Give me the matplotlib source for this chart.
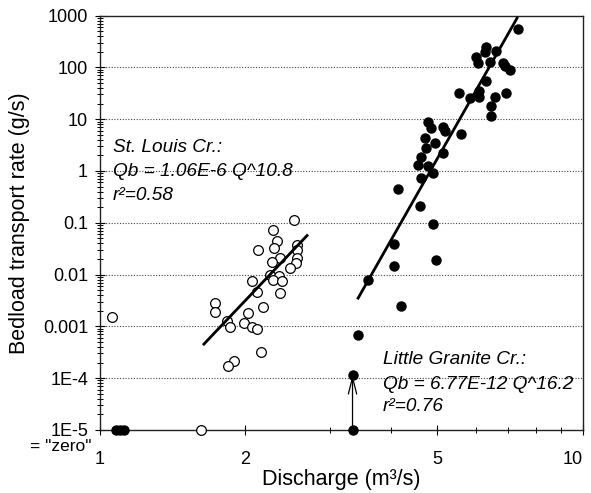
import matplotlib
matplotlib.use('Agg')
import matplotlib.pyplot as plt
import matplotlib.ticker as ticker

plt.rcParams['font.family'] = ['Liberation Sans', 'DejaVu Sans']

# St. Louis Cr. (open circles)
sl_q = [2.525, 2.285, 2.331, 2.293, 2.127, 2.554, 2.56, 2.359, 2.554, 2.276,
        2.55, 2.474, 2.256, 2.351, 2.278, 2.378, 2.061, 2.114, 2.359, 1.730,
        1.730, 2.175, 2.022, 1.836, 1.858, 1.984, 2.061, 2.111, 2.161, 1.894,
        1.843, 1.062, 1.618]
sl_qb = [0.115, 0.0730, 0.0438, 0.0324, 0.0304, 0.0374, 0.0300, 0.0210, 0.0207, 0.0171,
         0.0166, 0.01346, 0.00987, 0.00957, 0.00790, 0.00755, 0.00747, 0.00463, 0.00438, 0.00281,
         0.00185, 0.00235, 0.00177, 0.00126, 0.00099, 0.00115, 0.000958, 0.000896, 3.18e-4, 2.13e-4,
         1.69e-4, 0.00148, 1e-5]

# Little Granite Cr. (filled circles)
lg_q = [7.345, 6.298, 6.604, 6.268, 6.025, 6.071, 6.418, 6.821, 6.896, 7.086,
        6.319, 6.100, 5.545, 5.854, 6.100, 6.573, 6.929, 6.471, 6.449, 4.783,
        4.861, 5.138, 5.179, 5.589, 4.709, 4.939, 4.746, 5.138, 4.634, 4.560,
        4.783, 4.897, 4.634, 4.146, 4.598, 4.897, 4.062, 4.062, 4.979, 3.593,
        4.206, 3.426, 3.336, 3.336, 1.08, 1.10, 1.12]
lg_qb = [554, 252, 211, 196, 157, 124, 129, 120, 108, 89.5,
         54.9, 35.2, 31.8, 26.1, 27.3, 27.3, 31.8, 18.1, 11.6, 8.75,
         6.70, 7.20, 6.03, 5.20, 4.30, 3.53, 2.75, 2.26, 1.90, 1.31,
         1.25, 0.907, 0.726, 0.446, 0.206, 0.0953, 0.0392, 0.0143, 0.0192, 0.0079,
         0.00249, 6.85e-4, 1.16e-4, 1e-5, 1e-5, 1e-5, 1e-5]

# fitted power-law lines (end points)
sl_fit_q = [1.642, 2.686]
sl_fit_qb = [4.53e-4, 0.0566]
lg_fit_q = [3.426, 7.31]
lg_fit_qb = [3.50e-3, 891]

# arrow: "zero" value lifted to 1E-4
arrow_q = 3.336
arrow_from = 1e-5
arrow_to = 1.16e-4

yticks = [1e-5, 1e-4, 1e-3, 1e-2, 1e-1, 1, 10, 100, 1000]
ytick_labels = ['1E-5', '1E-4', '0.001', '0.01', '0.1', '1', '10', '100', '1000']
xticks = [1, 2, 5, 10]
xtick_labels = ['1', '2', '5', '10']

fig = plt.figure(figsize=(5.91, 4.93), dpi=100)
ax = fig.add_axes([0.169, 0.128, 0.817, 0.8404])
ax.set_xscale('log')
ax.set_yscale('log')
ax.set_xlim(1, 10)
ax.set_ylim(1e-5, 1000)

for yv in yticks[1:-1]:
    ax.axhline(yv, color='#444444', lw=0.8, ls=(0, (1, 1.5)), zorder=1)

ax.plot(sl_q, sl_qb, 'o', ms=7, mfc='white', mec='black', mew=0.9,
        clip_on=False, zorder=3)
ax.plot(lg_q, lg_qb, 'o', ms=6.5, mfc='black', mec='black',
        clip_on=False, zorder=3)

ax.plot(sl_fit_q, sl_fit_qb, color='black', lw=2, zorder=4)
ax.plot(lg_fit_q, lg_fit_qb, color='black', lw=2, zorder=4)

ax.annotate('', xy=(arrow_q, arrow_to), xytext=(arrow_q, arrow_from),
            arrowprops=dict(arrowstyle='->,head_length=0.8,head_width=0.2',
                            lw=0.9, color='black', shrinkA=0, shrinkB=0,
                            mutation_scale=15), zorder=2)

ax.yaxis.set_major_locator(ticker.FixedLocator(yticks))
ax.yaxis.set_major_formatter(ticker.FixedFormatter(ytick_labels))
ax.yaxis.set_minor_locator(ticker.LogLocator(base=10, subs=range(2, 10), numticks=20))
ax.yaxis.set_minor_formatter(ticker.NullFormatter())
ax.xaxis.set_major_locator(ticker.FixedLocator(xticks))
ax.xaxis.set_major_formatter(ticker.FixedFormatter(xtick_labels))
ax.xaxis.set_minor_locator(ticker.FixedLocator([3, 4, 6, 7, 8, 9]))
ax.xaxis.set_minor_formatter(ticker.NullFormatter())

ax.tick_params(axis='both', which='major', direction='inout', length=7, width=0.8,
               labelsize=13, color='black')
ax.tick_params(axis='both', which='minor', direction='inout', length=5, width=0.7)
ax.tick_params(axis='x', which='both', pad=12)
ax.tick_params(axis='y', which='both', pad=5)

for s in ax.spines.values():
    s.set_linewidth(1.0)
    s.set_color('#222222')

ax.set_xlabel('Discharge (m³/s)', fontsize=15.5, va='center')
ax.set_ylabel('Bedload transport rate (g/s)', fontsize=15.5, va='center')
ax.xaxis.set_label_coords(0.5, -0.1207)
ax.yaxis.set_label_coords(-0.1656, 0.5)

# keep the last x label inside the figure, as in the original
fig.canvas.draw()
ax.get_xticklabels()[-1].set_horizontalalignment('right')
ax.get_xticklabels()[-1].set_x(10)

ax.text(-0.0172, -0.041, '= "zero"', transform=ax.transAxes, ha='right', va='center',
        fontsize=12.5)

tx = dict(transform=ax.transAxes, ha='left', va='center', fontsize=13.7, style='italic')
ax.text(0.027, 0.681, 'St. Louis Cr.:', **tx)
ax.text(0.027, 0.623, 'Qb = 1.06E-6 Q^10.8', **tx)
ax.text(0.027, 0.565, 'r²=0.58', **tx)
ax.text(0.5866, 0.169, 'Little Granite Cr.:', **tx)
ax.text(0.5866, 0.1086, 'Qb = 6.77E-12 Q^16.2', **tx)
ax.text(0.5866, 0.0562, 'r²=0.76', **tx)

fig.savefig('out.png', dpi=100)
